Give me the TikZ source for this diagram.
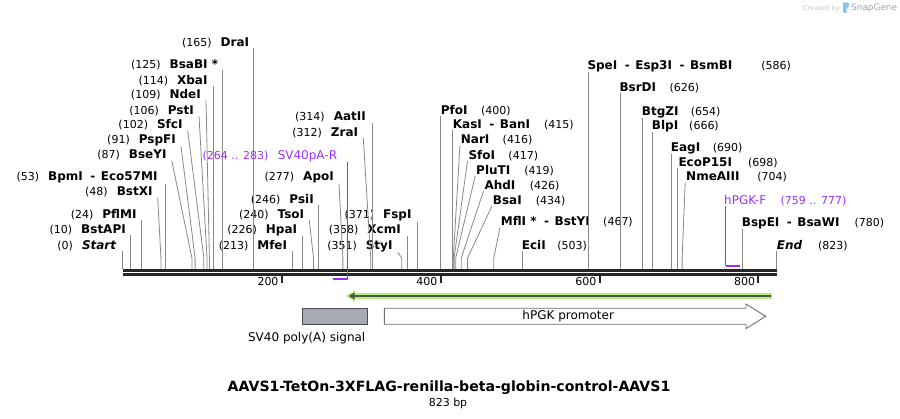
\documentclass[tikz,border=0pt]{standalone}
\usepackage{fontspec}
\setmainfont{DejaVu Sans}[ItalicFont={DejaVu Sans Oblique},BoldItalicFont={DejaVu Sans Bold Oblique}]
\usetikzlibrary{arrows.meta}

\definecolor{strand}{HTML}{262626}
\definecolor{cutgray}{HTML}{888888}
\definecolor{primer}{HTML}{9B30F5}
\definecolor{glowgreen}{HTML}{B2EE82}
\definecolor{featdark}{HTML}{4B5842}
\definecolor{boxgray}{HTML}{A6ABB3}
\definecolor{boxedge}{HTML}{4D4D4D}
\definecolor{arrowedge}{HTML}{6E6E6E}
\definecolor{wmlight}{HTML}{C4C4C4}
\definecolor{wmgray}{HTML}{A2A2A2}
\definecolor{logoblue}{HTML}{86C6EE}

\newcommand{\enzfont}{\fontsize{12}{14}\selectfont\bfseries}
\newcommand{\bpnum}[1]{{\mdseries\fontsize{11}{13}\selectfont(#1)}}
\newcommand{\primnum}[1]{{\fontsize{11}{13}\selectfont(#1)}}
\newcommand{\dsh}{\hspace{7.5pt}-\hspace{5.5pt}}

\tikzset{
  enzL/.style={anchor=base east, inner sep=0pt, font=\enzfont},
  enzR/.style={anchor=base west, inner sep=0pt, font=\enzfont},
  primL/.style={anchor=base east, inner sep=0pt, text=primer, font=\fontsize{12}{14}\selectfont},
  primR/.style={anchor=base west, inner sep=0pt, text=primer, font=\fontsize{12}{14}\selectfont},
  cut/.style={draw=cutgray, line width=0.8pt},
  strandline/.style={draw=strand, line width=2.7pt},
  tick/.style={draw=strand, line width=2pt},
  ticklbl/.style={anchor=east, inner sep=0pt, font=\fontsize{11}{13}\selectfont},
  primbar/.style={draw=primer, line width=2.3pt},
  primline/.style={draw=primer, line width=1.2pt},
  featlbl/.style={inner sep=0pt, font=\fontsize{12}{14}\selectfont},
  polybox/.style={draw=boxedge, fill=boxgray, line width=0.9pt, inner sep=0pt,
    minimum width=65.4pt, minimum height=16pt},
  promo/.style={draw=arrowedge, fill=white, line width=0.9pt},
}

\begin{document}
\begin{tikzpicture}[x=1pt, y=-1pt]
\useasboundingbox (0,0) rectangle (900,419);

% positions on the sequence, in bp
\begin{scope}[xshift=122.8pt, x=0.7945pt]
  \coordinate (seqL) at (0,270.3);
  \coordinate (seqR) at (823,270.3);
  \coordinate (t200) at (200,276);
  \coordinate (t400) at (400,276);
  \coordinate (t600) at (600,276);
  \coordinate (t800) at (800,276);
  \coordinate (s0) at (0,269);
  \coordinate (s10) at (10,269);
  \coordinate (s24) at (24,269);
  \coordinate (s48) at (48,269);
  \coordinate (s53) at (53,269);
  \coordinate (s87) at (87,269);
  \coordinate (s91) at (91,269);
  \coordinate (s102) at (102,269);
  \coordinate (s106) at (106,269);
  \coordinate (s109) at (109,269);
  \coordinate (s114) at (114,269);
  \coordinate (s125) at (125,269);
  \coordinate (s165) at (165,269);
  \coordinate (s213) at (213,269);
  \coordinate (s226) at (226,269);
  \coordinate (s240) at (240,269);
  \coordinate (s246) at (246,269);
  \coordinate (s277) at (277,269);
  \coordinate (s312) at (312,269);
  \coordinate (s314) at (314,269);
  \coordinate (s351) at (351,269);
  \coordinate (s358) at (358,269);
  \coordinate (s371) at (371,269);
  \coordinate (s400) at (400,269);
  \coordinate (s415) at (415,269);
  \coordinate (s416) at (416,269);
  \coordinate (s417) at (417,269);
  \coordinate (s419) at (419,269);
  \coordinate (s426) at (426,269);
  \coordinate (s434) at (434,269);
  \coordinate (s467) at (467,269);
  \coordinate (s503) at (503,269);
  \coordinate (s586) at (586,269);
  \coordinate (s626) at (626,269);
  \coordinate (s654) at (654,269);
  \coordinate (s666) at (666,269);
  \coordinate (s690) at (690,269);
  \coordinate (s698) at (698,269);
  \coordinate (s704) at (704,269);
  \coordinate (s780) at (780,269);
  \coordinate (s823) at (823,269);
  \coordinate (p264) at (264,279);
  \coordinate (p283) at (283,279);
  \coordinate (p759) at (759,266);
  \coordinate (p777) at (777,266);
\end{scope}

% sequence
\draw[strandline] (seqL) -- (seqR);
\draw[strandline] ([yshift=-4.4pt]seqL) -- ([yshift=-4.4pt]seqR);
\draw[tick] (t200) -- ++(0,7);
\draw[tick] (t400) -- ++(0,7);
\draw[tick] (t600) -- ++(0,7);
\draw[tick] (t800) -- ++(0,7);
\node[ticklbl] (n200) at ([xshift=-3pt,yshift=-5.5pt]t200) {200};
\node[ticklbl] (n400) at ([xshift=-3pt,yshift=-5.5pt]t400) {400};
\node[ticklbl] (n600) at ([xshift=-3pt,yshift=-5.5pt]t600) {600};
\node[ticklbl] (n800) at ([xshift=-3pt,yshift=-5.5pt]t800) {800};

% enzymes, left side
\node[enzL] (DraI) at (249.3,46.7) {\bpnum{165}\hspace{9pt}DraI};
\node[enzL] (BsaBI) at (218.3,68.7) {\bpnum{125}\hspace{9pt}BsaBI *};
\node[enzL] (XbaI) at (207.7,84.4) {\bpnum{114}\hspace{9pt}XbaI};
\node[enzL] (NdeI) at (201,98.7) {\bpnum{109}\hspace{9pt}NdeI};
\node[enzL] (PstI) at (194,114.4) {\bpnum{106}\hspace{9pt}PstI};
\node[enzL] (SfcI) at (182.7,128.7) {\bpnum{102}\hspace{9pt}SfcI};
\node[enzL] (PspFI) at (176,143.4) {\bpnum{91}\hspace{9pt}PspFI};
\node[enzL] (BseYI) at (166.7,158.7) {\bpnum{87}\hspace{9pt}BseYI};
\node[enzL] (BpmI) at (157.7,181) {\bpnum{53}\hspace{9pt}BpmI\dsh Eco57MI};
\node[enzL] (BstXI) at (152.7,196) {\bpnum{48}\hspace{9pt}BstXI};
\node[enzL] (PflMI) at (136.7,218.7) {\bpnum{24}\hspace{9pt}PflMI};
\node[enzL] (BstAPI) at (126,233.7) {\bpnum{10}\hspace{9pt}BstAPI};
\node[enzL] (Start) at (116.7,249.4) {\bpnum{0}\hspace{9pt}\textit{Start}};

\node[enzL] (ApoI) at (334,181) {\bpnum{277}\hspace{9pt}ApoI};
\node[enzL] (PsiI) at (314,203.7) {\bpnum{246}\hspace{9pt}PsiI};
\node[enzL] (TsoI) at (304.3,218.7) {\bpnum{240}\hspace{9pt}TsoI};
\node[enzL] (HpaI) at (297.3,233.7) {\bpnum{226}\hspace{9pt}HpaI};
\node[enzL] (MfeI) at (287.3,249.4) {\bpnum{213}\hspace{9pt}MfeI};
\node[enzL] (AatII) at (366,121) {\bpnum{314}\hspace{9pt}AatII};
\node[enzL] (ZraI) at (358.3,136.5) {\bpnum{312}\hspace{9pt}ZraI};
\node[enzL] (FspI) at (411.7,219) {\bpnum{371}\hspace{9pt}FspI};
\node[enzL] (XcmI) at (401,234) {\bpnum{358}\hspace{9pt}XcmI};
\node[enzL] (StyI) at (392.7,249.4) {\bpnum{351}\hspace{9pt}StyI};

% enzymes, right side
\node[enzR] (PfoI) at (440.7,114.4) {PfoI\hspace{13.4pt}\bpnum{400}};
\node[enzR] (KasI) at (452.7,128.7) {KasI\dsh BanI\hspace{14pt}\bpnum{415}};
\node[enzR] (NarI) at (460.7,144) {NarI\hspace{13.3pt}\bpnum{416}};
\node[enzR] (SfoI) at (468.3,159.4) {SfoI\hspace{13.4pt}\bpnum{417}};
\node[enzR] (PluTI) at (476,174.4) {PluTI\hspace{14pt}\bpnum{419}};
\node[enzR] (AhdI) at (484.3,189.4) {AhdI\hspace{14.5pt}\bpnum{426}};
\node[enzR] (BsaI) at (492.7,204.4) {BsaI\hspace{14pt}\bpnum{434}};
\node[enzR] (MflI) at (500.7,226) {MflI *\dsh BstYI\hspace{13.4pt}\bpnum{467}};
\node[enzR] (EciI) at (521.7,249.4) {EciI\hspace{11.6pt}\bpnum{503}};
\node[enzR] (SpeI) at (587.3,69.4) {SpeI\dsh Esp3I\dsh BsmBI\hspace{29pt}\bpnum{586}};
\node[enzR] (BsrDI) at (619.3,91.7) {BsrDI\hspace{13.4pt}\bpnum{626}};
\node[enzR] (BtgZI) at (641.7,115.4) {BtgZI\hspace{12.4pt}\bpnum{654}};
\node[enzR] (BlpI) at (651.7,129.4) {BlpI\hspace{11pt}\bpnum{666}};
\node[enzR] (EagI) at (670.7,151.7) {EagI\hspace{12.6pt}\bpnum{690}};
\node[enzR] (EcoP15I) at (678.3,166.4) {EcoP15I\hspace{16pt}\bpnum{698}};
\node[enzR] (NmeAIII) at (686,181) {NmeAIII\hspace{17.7pt}\bpnum{704}};
\node[enzR] (BspEI) at (741.7,226.7) {BspEI\dsh BsaWI\hspace{15pt}\bpnum{780}};
\node[enzR] (End) at (776.7,249.4) {\textit{End}\hspace{15.7pt}\bpnum{823}};

% cut site lines
\draw[cut] (s165) -- (s165 |- DraI.south);
\draw[cut] (s125) -- (s125 |- BsaBI.south);
\draw[cut] (s114) -- (s114 |- XbaI.south);
\draw[cut] (NdeI.south east) ++(5,0) -- ([yshift=11pt]s109) -- (s109);
\draw[cut] (PstI.south east) ++(5,0) -- ([yshift=11pt]s106) -- (s106);
\draw[cut] (SfcI.south east) ++(5,0) -- ([yshift=11pt]s102) -- (s102);
\draw[cut] (PspFI.south east) ++(5,0) -- ([yshift=11pt]s91) -- (s91);
\draw[cut] (BseYI.south east) ++(5,0) -- ([yshift=11pt]s87) -- (s87);
\draw[cut] (s53) -- (s53 |- BpmI.south);
\draw[cut] (BstXI.south east) ++(5,0) -- ([yshift=11pt]s48) -- (s48);
\draw[cut] (s24) -- (s24 |- PflMI.south);
\draw[cut] (s10) -- (s10 |- BstAPI.south);
\draw[cut] (s0) -- (s0 |- Start.south);
\draw[cut] (ApoI.south east) ++(5,0) -- ([yshift=11pt]s277) -- (s277);
\draw[cut] (s246) -- (s246 |- PsiI.south);
\draw[cut] (TsoI.south east) ++(5,0) -- ([yshift=11pt]s240) -- (s240);
\draw[cut] (s226) -- (s226 |- HpaI.south);
\draw[cut] (s213) -- (s213 |- MfeI.south);
\draw[cut] (s314) -- (s314 |- AatII.south);
\draw[cut] (ZraI.south east) ++(5,0) -- ([yshift=11pt]s312) -- (s312);
\draw[cut] (s371) -- (s371 |- FspI.south);
\draw[cut] (s358) -- (s358 |- XcmI.south);
\draw[cut] (StyI.south east) ++(5,0) -- ([yshift=11pt]s351) -- (s351);

\draw[cut] (s400) -- (s400 |- PfoI.south);
\draw[cut] (s415) -- (s415 |- KasI.south);
\draw[cut] (NarI.south west) ++(-0.8,0) -- ([yshift=11pt]s416) -- (s416);
\draw[cut] (SfoI.south west) ++(-0.8,0) -- ([yshift=11pt]s417) -- (s417);
\draw[cut] (PluTI.south west) ++(-0.8,0) -- ([yshift=11pt]s419) -- (s419);
\draw[cut] (AhdI.south west) ++(-0.8,0) -- ([yshift=11pt]s426) -- (s426);
\draw[cut] (BsaI.south west) ++(-0.8,0) -- ([yshift=11pt]s434) -- (s434);
\draw[cut] (MflI.south west) ++(-0.8,0) -- ([yshift=11pt]s467) -- (s467);
\draw[cut] (s503) -- (s503 |- EciI.south);
\draw[cut] (s586) -- (s586 |- SpeI.south);
\draw[cut] (s626) -- (s626 |- BsrDI.south);
\draw[cut] (s654) -- (s654 |- BtgZI.south);
\draw[cut] (s666) -- (s666 |- BlpI.south);
\draw[cut] (s690) -- (s690 |- EagI.south);
\draw[cut] (s698) -- (s698 |- EcoP15I.south);
\draw[cut] (NmeAIII.south west) ++(-0.8,0) -- ([yshift=11pt]s704) -- (s704);
\draw[cut] (s780) -- (s780 |- BspEI.south);
\draw[cut] (s823) -- (s823 |- End.south);

% primers
\node[primL] (SVR) at (337.3,159.4) {\primnum{264 .. 283}\hspace{9.4pt}SV40pA-R};
\draw[primbar] (p264) -- (p283);
\draw[primline] (p283) -- (p283 |- SVR.south);
\node[primR] (PGKF) at (724,204.4) {hPGK-F\hspace{14.4pt}\primnum{759 .. 777}};
\draw[primbar] (p759) -- (p777);
\draw[primline] (p759) -- (p759 |- PGKF.south);

% features
\coordinate (gR) at (772.3,296);
\coordinate (gL) at (346,296);
\draw[glowgreen, line width=5.5pt, -{Triangle[length=9pt,width=11pt]}] (gR) -- (gL);
\draw[featdark, line width=2.2pt, -{Triangle[length=6pt,width=6.5pt]}] ([xshift=-1.6pt]gR) -- ([xshift=2.5pt]gL);

\node[polybox] (polyA) at (335,316.3) {};
\node[featlbl, anchor=base east] (polyAlbl) at (365.5,341.5) {SV40 poly(A) signal};

\draw[promo] (384.3,308.3) -- (746,308.3) -- (746,304) -- (765.7,316.3)
  -- (746,328.6) -- (746,324.3) -- (384.3,324.3) -- cycle;
\node[featlbl] (hPGK) at (568.2,316.3) {hPGK promoter};

% title
\node[inner sep=0pt, font=\fontsize{14.1}{16}\selectfont\bfseries] (title) at (449,388)
  {AAVS1-TetOn-3XFLAG-renilla-beta-globin-control-AAVS1};
\node[inner sep=0pt, font=\fontsize{11}{13}\selectfont] (length) at (448,403.5) {823 bp};

% watermark
\node[anchor=base east, inner sep=0pt, text=wmlight, font=\fontsize{6.7}{8}\selectfont] (created) at (840,10.3) {Created by};
\fill[logoblue] (843,2.5) -- (847,2.5) .. controls (850,2.5) and (850,8) .. (846.5,8)
  -- (846.5,13) -- (843,13) -- cycle;
\node[anchor=base west, inner sep=0pt, text=wmgray, font=\fontsize{8.9}{10}\selectfont] (snapgene) at (851,10.5) {SnapGene};
\end{tikzpicture}
\end{document}
